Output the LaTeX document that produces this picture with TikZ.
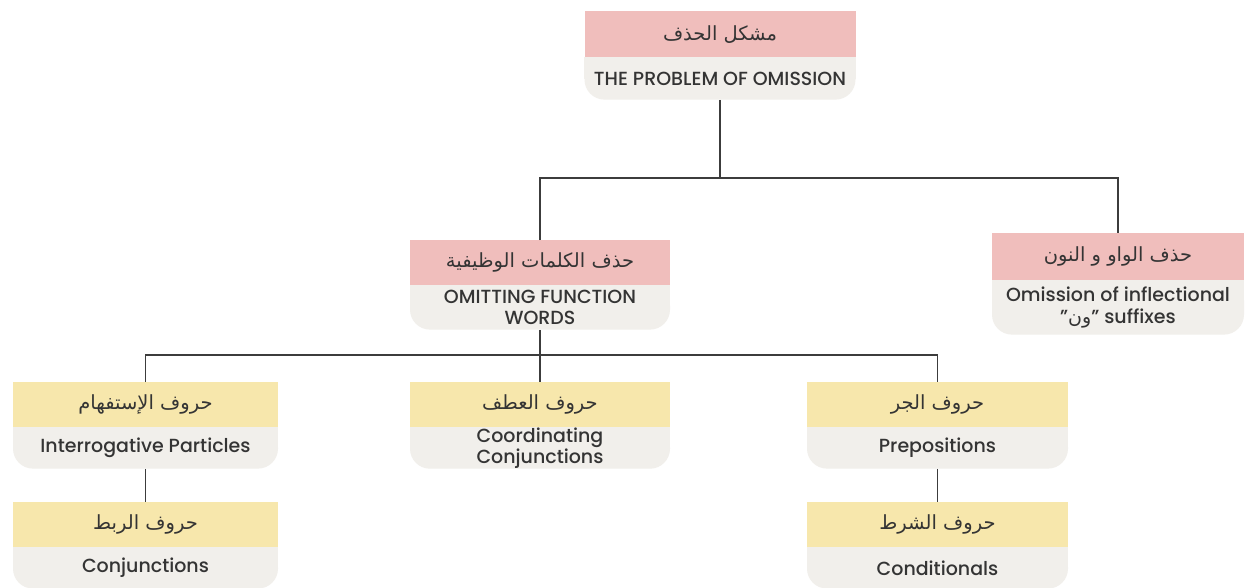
\documentclass[tikz,border=0pt]{standalone}
\usepackage{fontspec}
\setmainfont{Poppins}[BoldFont=Poppins Medium]
\newfontfamily\arabicfont[Script=Arabic]{DejaVu Sans}
\TeXXeTstate=1
\usetikzlibrary{backgrounds}

\definecolor{hpink}{RGB}{240,190,188}
\definecolor{hyellow}{RGB}{247,231,172}
\definecolor{bodyc}{RGB}{241,239,235}
\definecolor{linec}{RGB}{60,60,60}
\definecolor{txt}{RGB}{52,52,52}

\tikzset{
  hdr/.style={anchor=north, inner sep=0pt, text=txt,
    font=\arabicfont\fontsize{19.5}{22}\selectfont},
  pinkhdr/.style={hdr, fill=hpink, minimum height=46pt},
  yelhdr/.style={hdr, fill=hyellow, minimum height=45pt},
  bodybox/.style={anchor=north, fill=bodyc, rounded corners=20pt, inner sep=0pt,
    text=txt, align=center, font=\bfseries\fontsize{19}{21.5}\selectfont},
  link/.style={draw=linec, line width=1.1pt}
}

\begin{document}
\begin{tikzpicture}[x=1pt, y=-1pt]
  \useasboundingbox (0,0) rectangle (1248,587);

  % root
  \node[pinkhdr, minimum width=271pt] (probH) at (720,11) {\beginR مشكل الحذف\endR};
  \node[bodybox, minimum width=271pt, minimum height=42pt] (probB) at (probH.south) {THE PROBLEM OF OMISSION};

  % second level
  \node[pinkhdr, minimum width=260pt, minimum height=45pt] (funcH) at (540,240) {\beginR حذف الكلمات الوظيفية\endR};
  \node[bodybox, minimum width=260pt, minimum height=44pt] (funcB) at (funcH.south) {OMITTING FUNCTION\\WORDS};

  \node[pinkhdr, minimum width=252pt, minimum height=47pt] (infH) at (1118,233) {\beginR حذف الواو و النون\endR};
  \node[bodybox, minimum width=252pt, minimum height=54pt] (infB) at (infH.south)
    {Omission of inflectional\\\symbol{34}\beginR{\arabicfont\mdseries ون}\endR\symbol{34} suffixes};

  % third level
  \node[yelhdr, minimum width=265pt] (intH) at (145.5,382) {\beginR حروف الإستفهام\endR};
  \node[bodybox, minimum width=265pt, minimum height=41pt] (intB) at (intH.south) {Interrogative Particles};

  \node[yelhdr, minimum width=260pt] (coordH) at (540,382) {\beginR حروف العطف\endR};
  \node[bodybox, minimum width=260pt, minimum height=41pt] (coordB) at (coordH.south) {Coordinating\\Conjunctions};

  \node[yelhdr, minimum width=261pt] (prepH) at (937.5,382) {\beginR حروف الجر\endR};
  \node[bodybox, minimum width=261pt, minimum height=41pt] (prepB) at (prepH.south) {Prepositions};

  % fourth level
  \node[yelhdr, minimum width=265pt] (conjH) at (145.5,502) {\beginR حروف الربط\endR};
  \node[bodybox, minimum width=265pt, minimum height=41pt] (conjB) at (conjH.south) {Conjunctions};

  \node[yelhdr, minimum width=261pt] (condH) at (937.5,502) {\beginR حروف الشرط\endR};
  \node[bodybox, minimum width=261pt, minimum height=41pt] (condB) at (condH.south) {Conditionals};

  % page colour, then square off the top corners of each body under its header
  \begin{scope}[on background layer]
    \fill[white] (0,0) rectangle (1248,587);
    \foreach \n in {prob,func,inf,int,coord,prep,conj,cond}
      \fill[bodyc] (\n H.south west) rectangle (\n B.east);
  \end{scope}

  % connectors
  \coordinate (j1) at (720,178);
  \coordinate (j2) at (540,355);
  \draw[link] (probB.south) -- (j1);
  \draw[link] (funcH.north) |- (j1) -| (infH.north);
  \draw[link] (funcB.south) -- (j2);
  \draw[link] (intH.north) |- (j2) -| (prepH.north);
  \draw[link] (j2) -- (coordH.north);
  \draw[link] (intB.south) -- (conjH.north);
  \draw[link] (prepB.south) -- (condH.north);
\end{tikzpicture}
\end{document}
